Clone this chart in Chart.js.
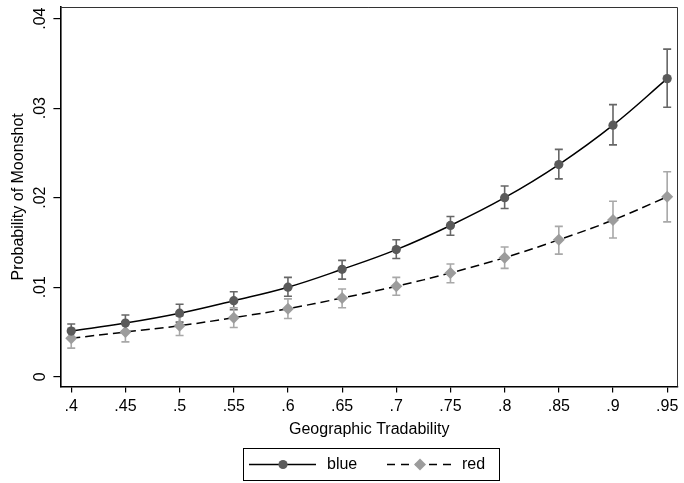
<!DOCTYPE html>
<html>
<head>
<meta charset="utf-8">
<script src="https://cdn.jsdelivr.net/npm/chart.js@4/dist/chart.umd.min.js"></script>
<style>
  html, body { margin: 0; padding: 0; background: #fff; }
  #wrap { width: 684px; height: 483px; }
</style>
</head>
<body>
<div id="wrap"><canvas id="chart" width="684" height="483"></canvas></div>
<script>
// ---- DATA ----
const tradability = [0.4, 0.45, 0.5, 0.55, 0.6, 0.65, 0.7, 0.75, 0.8, 0.85, 0.9, 0.95];
const yTicks = [0, 0.01, 0.02, 0.03, 0.04];

const blueMean = [0.0051, 0.0060, 0.0071, 0.0085, 0.0100, 0.0120, 0.0142, 0.0169, 0.0200, 0.0237, 0.0281, 0.0333];
const blueLow  = [0.0043, 0.0051, 0.0061, 0.0075, 0.0090, 0.0109, 0.0132, 0.0158, 0.0188, 0.0221, 0.0259, 0.0301];
const blueHigh = [0.0059, 0.0069, 0.0081, 0.0095, 0.0111, 0.0130, 0.0153, 0.0179, 0.0213, 0.0254, 0.0304, 0.0366];

const redMean = [0.0043, 0.0050, 0.0057, 0.0066, 0.0076, 0.0088, 0.0101, 0.0116, 0.0133, 0.0153, 0.0175, 0.0201];
const redLow  = [0.0032, 0.0039, 0.0046, 0.0055, 0.0065, 0.0077, 0.0091, 0.0105, 0.0121, 0.0137, 0.0155, 0.0173];
const redHigh = [0.0054, 0.0061, 0.0068, 0.0077, 0.0087, 0.0098, 0.0111, 0.0126, 0.0145, 0.0168, 0.0196, 0.0229];

// ---- STYLE ----
const FONT = "'Liberation Sans', Arial, sans-serif";
const BLUE_MK = "#5a5a5a";
const BLUE_BAR = "#666666";
const RED_MK = "#9c9c9c";
const RED_BAR = "#a8a8a8";

const dotLabel = v => (v === 0 ? "0" : String(v).replace(/^0/, ""));

const toPoints = arr => arr.map((v, i) => ({ x: tradability[i], y: v }));

// ---- ERROR BARS (rcap) ----
const errorBars = {
  id: "errorBars",
  beforeDatasetsDraw(chart) {
    const { ctx, scales: { x, y } } = chart;
    const sets = [
      { lo: blueLow, hi: blueHigh, color: BLUE_BAR },
      { lo: redLow, hi: redHigh, color: RED_BAR }
    ];
    ctx.save();
    ctx.lineWidth = 1.6;
    sets.forEach(s => {
      ctx.strokeStyle = s.color;
      tradability.forEach((t, i) => {
        const px = x.getPixelForValue(t);
        const y1 = y.getPixelForValue(s.lo[i]);
        const y2 = y.getPixelForValue(s.hi[i]);
        ctx.beginPath();
        ctx.moveTo(px, y1); ctx.lineTo(px, y2);
        ctx.moveTo(px - 4, y1); ctx.lineTo(px + 4, y1);
        ctx.moveTo(px - 4, y2); ctx.lineTo(px + 4, y2);
        ctx.stroke();
      });
    });
    ctx.restore();
  }
};

// ---- PLOT FRAME + LEGEND ----
const frameAndLegend = {
  id: "frameAndLegend",
  afterDraw(chart) {
    const { ctx, chartArea: a } = chart;
    ctx.save();
    // plot region outline (top / right)
    ctx.strokeStyle = "#333";
    ctx.lineWidth = 1;
    ctx.beginPath();
    ctx.moveTo(a.left, a.top + 0.5); ctx.lineTo(a.right - 0.5, a.top + 0.5);
    ctx.lineTo(a.right - 0.5, a.bottom);
    ctx.stroke();

    // legend box
    const bx = 243, by = 448, bw = 256, bh = 32, cy = by + bh / 2 + 0.5;
    ctx.strokeStyle = "#000";
    ctx.lineWidth = 1;
    ctx.strokeRect(bx + 0.5, by + 0.5, bw, bh);

    ctx.lineWidth = 1.5;
    ctx.strokeStyle = "#000";
    ctx.beginPath(); ctx.moveTo(249, cy); ctx.lineTo(316, cy); ctx.stroke();
    ctx.fillStyle = BLUE_MK;
    ctx.beginPath(); ctx.arc(283, cy, 4.6, 0, Math.PI * 2); ctx.fill();

    ctx.setLineDash([8, 6]);
    ctx.beginPath(); ctx.moveTo(387, cy); ctx.lineTo(452, cy); ctx.stroke();
    ctx.setLineDash([]);
    ctx.fillStyle = RED_MK;
    ctx.beginPath();
    ctx.moveTo(420 - 6, cy); ctx.lineTo(420, cy - 6); ctx.lineTo(420 + 6, cy); ctx.lineTo(420, cy + 6);
    ctx.closePath(); ctx.fill();

    ctx.fillStyle = "#000";
    ctx.font = "16px " + FONT;
    ctx.textBaseline = "middle";
    ctx.textAlign = "left";
    ctx.fillText("blue", 327, cy);
    ctx.fillText("red", 462, cy);
    ctx.restore();
  }
};

new Chart(document.getElementById("chart"), {
  type: "line",
  data: {
    datasets: [
      {
        label: "blue",
        data: toPoints(blueMean),
        borderColor: "#000",
        borderWidth: 1.5,
        tension: 0.4,
        pointStyle: "circle",
        pointRadius: 4.6,
        pointBackgroundColor: BLUE_MK,
        pointBorderWidth: 0
      },
      {
        label: "red",
        data: toPoints(redMean),
        borderColor: "#000",
        borderWidth: 1.5,
        borderDash: [9, 5],
        tension: 0.4,
        pointStyle: "rectRot",
        pointRadius: 6,
        pointBackgroundColor: RED_MK,
        pointBorderWidth: 0
      }
    ]
  },
  options: {
    responsive: false,
    animation: false,
    events: [],
    layout: { padding: { top: 7, right: 3, left: 1, bottom: 44 } },
    plugins: { legend: { display: false }, tooltip: { enabled: false } },
    scales: {
      x: {
        type: "linear",
        min: 0.39,
        max: 0.96,
        afterBuildTicks: s => { s.ticks = tradability.map(v => ({ value: v })); },
        afterFit: s => { s.paddingLeft = 0; s.paddingRight = 0; },
        ticks: {
          color: "#000",
          font: { family: FONT, size: 16 },
          padding: 4,
          maxRotation: 0,
          autoSkip: false,
          callback: v => dotLabel(v)
        },
        grid: { drawOnChartArea: false, drawTicks: true, tickLength: 6, color: "#000", lineWidth: 1.2 },
        border: { display: true, color: "#000", width: 1.6 },
        title: {
          display: true,
          text: "Geographic Tradability",
          color: "#000",
          font: { family: FONT, size: 16 },
          padding: { top: 0, bottom: 0 }
        }
      },
      y: {
        min: -0.0011,
        max: 0.0413,
        afterBuildTicks: s => { s.ticks = yTicks.map(v => ({ value: v })); },
        afterFit: s => { s.paddingTop = 0; s.paddingBottom = 0; },
        ticks: {
          color: "#000",
          font: { family: FONT, size: 16 },
          padding: 2,
          minRotation: 90,
          maxRotation: 90,
          crossAlign: "center",
          autoSkip: false,
          callback: v => dotLabel(v)
        },
        grid: { drawOnChartArea: false, drawTicks: true, tickLength: 7, color: "#000", lineWidth: 1.2 },
        border: { display: true, color: "#000", width: 1.6 },
        title: {
          display: true,
          text: "Probability of Moonshot",
          color: "#000",
          font: { family: FONT, size: 16 },
          padding: { top: 8, bottom: 2 }
        }
      }
    }
  },
  plugins: [errorBars, frameAndLegend]
});
</script>
</body>
</html>
